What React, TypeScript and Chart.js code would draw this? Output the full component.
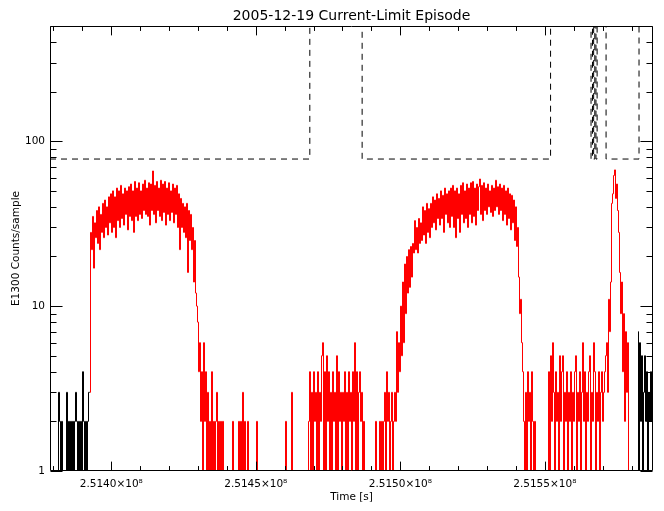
import React, { useEffect, useRef } from 'react';
import { Chart, registerables } from 'chart.js';

Chart.register(...registerables);

const FONT = '"DejaVu Sans", sans-serif';

// ---- text ----
const TITLE = '2005-12-19 Current-Limit Episode';
const X_TITLE = 'Time [s]';
const Y_TITLE = 'E1300 Counts/sample';

// ---- axes ----
const X_MIN = 251378800;
const X_MAX = 251587438;
const Y_MIN = 1;
const Y_MAX = 500;
const xTickValues = [251400000, 251450000, 251500000, 251550000];
const xTickLabels = ['2.5140×10⁸', '2.5145×10⁸', '2.5150×10⁸', '2.5155×10⁸'];
const X_MINOR_STEP = 10000;
const yTickValues = [1, 10, 100];
const yTickLabels = ['1', '10', '100'];

// ---- data (counts per sample) ----
const SAMPLE_STEP = 346; // seconds per sample

// black: full record outside the highlighted window
const blackStartT0 = 251379146;
const blackStartCounts = [
  1, 1, 1, 1, 1, 1, 1, 1, 3, 2,
  1, 2, 1, 1, 1, 1, 3, 1, 2, 1,
  2, 1, 2, 1, 2, 3, 2, 1, 2, 1,
  2, 1, 4, 2, 1, 2, 1, 2, 3, 3,
];
const blackEndT0 = 251582248;
const blackEndCounts = [7, 1, 6, 2, 5, 1, 3, 5, 2, 4, 1, 3, 2, 4, 2, 3];

// red: highlighted window
const redT0 = 251392640;
const redEpisode1 = [
  3, 28, 22, 35, 17, 32, 26, 38, 24, 40,
  22, 36, 28, 42, 26, 44, 30, 40, 27, 46,
  32, 48, 28, 50, 30, 46, 26, 52, 33, 50,
  30, 54, 34, 48, 31, 52, 36, 50, 29, 53,
  35, 55, 33, 50, 28, 57, 35, 52, 33, 56,
  36, 50, 34, 55, 38, 58, 36, 52, 35, 56,
  31, 55, 38, 66, 36, 54, 32, 57, 38, 52,
  35, 58, 33, 55, 37, 57, 31, 52, 36, 56,
  33, 50, 37, 55, 32, 52, 36, 54, 30, 48,
  22, 45, 30, 42, 28, 40, 26, 42, 16, 38,
  25, 36, 22, 30, 14, 25, 12, 10, 8, 4,
  6,
];
const redGap1 = [
  2, 4, 1, 6, 2, 4, 1, 3, 1, 2,
  1, 4, 1, 2, 1, 2, 3, 1, 2, 1,
  2, 1, 2, 1, 1, 1, 1, 1, 1, 1,
  1, 1, 2, 1, 1, 1, 1, 1, 2, 1,
  2, 1, 3, 1, 2, 1, 1, 2, 1, 1,
  1, 1, 1, 1, 1, 1, 2, 1, 1, 1,
  1, 1, 1, 1, 1, 1, 1, 1, 1, 1,
  1, 1, 1, 1, 1, 1, 1, 1, 1, 1,
  1, 1, 1, 1, 1, 2, 1, 1, 1, 1,
  1, 3, 1, 1, 1, 1, 1, 1, 1, 1,
  1, 1, 1, 1, 1, 1, 1, 1, 2,
];
const redNoise2 = [
  4, 1, 3, 1, 4, 2, 3, 1, 4, 1,
  3, 2, 5, 6, 1, 4, 1, 5, 2, 4,
  1, 3, 1, 4, 2, 3, 1, 5, 1, 4,
  2, 3, 1, 3, 2, 4, 1, 3, 1, 4,
  2, 3, 1, 4, 2, 6, 1, 4, 1, 3,
  4, 2, 3, 1, 2, 1,
];
const redGap2 = [
  1, 1, 1, 1, 1, 1, 1, 1, 1, 1,
  2, 1, 1, 1, 2, 1, 2, 1, 2, 3,
  1, 4, 2, 3, 1, 2, 3, 1, 2, 3,
];
const redEpisode2 = [
  2, 7, 3, 6, 4, 10, 5, 14, 6, 18,
  9, 20, 12, 22, 13, 23, 15, 24, 21, 33,
  22, 30, 21, 34, 24, 32, 25, 40, 27, 38,
  24, 42, 28, 39, 26, 42, 30, 46, 32, 44,
  29, 48, 34, 45, 31, 50, 34, 47, 28, 52,
  36, 48, 32, 50, 30, 52, 35, 54, 30, 50,
  26, 52, 34, 48, 28, 54, 36, 56, 32, 50,
  34, 55, 30, 52, 36, 56, 32, 57, 35, 52,
  31, 55, 38, 53, 59, 36, 54, 33, 56, 38,
  52, 36, 55, 40, 50, 37, 54, 35, 52, 38,
  58, 40, 53, 36, 55, 38, 52, 33, 54, 36,
  50, 31, 52, 34, 48, 29, 47, 32, 44, 25,
  40, 23, 30, 15, 9, 11, 6, 4, 2, 1,
  3, 1, 4, 2, 3, 1, 4, 2, 1, 2, 1,
];
const redGap3 = [1, 1, 1, 1, 1, 1, 1, 1, 1, 1, 1, 1];
const redNoise3 = [
  4, 1, 5, 2, 6, 3, 1, 4, 2, 3,
  1, 5, 2, 4, 5, 1, 3, 2, 4, 1,
  3, 2, 4, 1, 3, 2, 4, 5, 1, 3,
  2, 4, 1, 3, 6, 2, 4, 1, 3, 2,
  4, 5, 1, 3, 2, 6, 4, 1, 3, 2,
  4, 1, 3, 4, 2, 3,
];
const redFlare = [4, 5, 6, 3, 11, 7, 14, 42, 48, 62, 67, 45, 55, 38, 28, 16, 9, 14, 4, 9, 2, 7, 3, 6, 1, 1];

// dashed current-limit flag: 78 when inside limit, off-scale otherwise
const LIMIT_LEVEL = 78;
const OFF_SCALE = 10000;
const limitTimes = [
  251378800, 251468700, 251486800, 251552000, 251566000, 251566500, 251566900,
  251567300, 251567700, 251568100, 251571200, 251582600, 251587438,
];
const limitLevels = [
  LIMIT_LEVEL, OFF_SCALE, LIMIT_LEVEL, OFF_SCALE, LIMIT_LEVEL, OFF_SCALE, LIMIT_LEVEL,
  OFF_SCALE, LIMIT_LEVEL, OFF_SCALE, LIMIT_LEVEL, OFF_SCALE, OFF_SCALE,
];

const toPoints = (t0: number, counts: number[]) =>
  counts.map((c, i) => ({ x: t0 + i * SAMPLE_STEP, y: c }));

const redCounts = [
  ...redEpisode1, ...redGap1, ...redNoise2, ...redGap2,
  ...redEpisode2, ...redGap3, ...redNoise3, ...redFlare,
];

const framePlugin = {
  id: 'idlFrame',
  afterDatasetsDraw(chart: any) {
    const { ctx, chartArea: a, scales } = chart;
    const xs = scales.x;
    const ys = scales.y;
    const L = Math.round(a.left) + 0.5;
    const R = Math.round(a.right) - 0.5;
    const T = Math.round(a.top) + 0.5;
    const B = Math.round(a.bottom) - 0.5;
    ctx.save();
    ctx.strokeStyle = '#000';
    ctx.lineWidth = 1;
    ctx.beginPath();
    ctx.rect(L, T, R - L, B - T);
    const xMajLen = 0.02 * (B - T);
    const yMajLen = 0.02 * (R - L);
    for (let v = Math.ceil(X_MIN / X_MINOR_STEP) * X_MINOR_STEP; v <= X_MAX; v += X_MINOR_STEP) {
      const major = xTickValues.includes(v);
      const len = major ? xMajLen : xMajLen / 2;
      const px = Math.round(xs.getPixelForValue(v)) + 0.5;
      ctx.moveTo(px, B);
      ctx.lineTo(px, B - len);
      ctx.moveTo(px, T);
      ctx.lineTo(px, T + len);
    }
    for (let dec = 1; dec <= Y_MAX; dec *= 10) {
      for (let m = 1; m <= 9; m++) {
        const v = m * dec;
        if (v < Y_MIN || v > Y_MAX) continue;
        const len = m === 1 ? yMajLen : yMajLen / 2;
        const py = Math.round(ys.getPixelForValue(v)) + 0.5;
        ctx.moveTo(L, py);
        ctx.lineTo(L + len, py);
        ctx.moveTo(R, py);
        ctx.lineTo(R - len, py);
      }
    }
    ctx.stroke();
    ctx.restore();
  },
};

export default function App() {
  const ref = useRef<HTMLCanvasElement>(null);
  useEffect(() => {
    document.body.style.margin = '0';
    Chart.defaults.color = '#000';
    Chart.defaults.font.family = FONT;
    const chart = new Chart(ref.current as HTMLCanvasElement, {
      type: 'line',
      data: {
        datasets: [
          {
            label: 'limit',
            data: limitTimes.map((t, i) => ({ x: t, y: limitLevels[i] })),
            borderColor: '#000',
            borderWidth: 1,
            borderDash: [6, 5],
            stepped: 'before',
            pointRadius: 0,
            order: 0,
          },
          {
            label: 'window',
            data: toPoints(redT0, redCounts),
            borderColor: '#ff0000',
            borderWidth: 1,
            stepped: 'middle',
            pointRadius: 0,
            order: 1,
          },
          {
            label: 'before',
            data: toPoints(blackStartT0, blackStartCounts),
            borderColor: '#000',
            borderWidth: 1,
            stepped: 'middle',
            pointRadius: 0,
            order: 2,
          },
          {
            label: 'after',
            data: toPoints(blackEndT0, blackEndCounts),
            borderColor: '#000',
            borderWidth: 1,
            stepped: 'middle',
            pointRadius: 0,
            order: 2,
          },
        ],
      },
      options: {
        animation: false,
        responsive: false,
        devicePixelRatio: 1,
        events: [],
        layout: { padding: { left: 0, right: 11, top: 0, bottom: 0 } },
        plugins: {
          legend: { display: false },
          tooltip: { enabled: false },
          title: {
            display: true,
            text: TITLE,
            fullSize: false,
            color: '#000',
            font: { family: FONT, size: 14, weight: 'normal' },
            padding: { top: 8, bottom: 1.2 },
          },
        },
        scales: {
          x: {
            type: 'linear',
            min: X_MIN,
            max: X_MAX,
            grid: { display: false, drawTicks: false },
            border: { display: false },
            afterBuildTicks: (s: any) => {
              s.ticks = xTickValues.map((value) => ({ value }));
            },
            afterFit: (s: any) => {
              s.height = 40;
            },
            ticks: {
              autoSkip: false,
              maxRotation: 0,
              minRotation: 0,
              padding: 7,
              color: '#000',
              font: { family: FONT, size: 10.5 },
              callback: (_v: any, i: number) => xTickLabels[i],
            },
            title: {
              display: true,
              text: X_TITLE,
              color: '#000',
              font: { family: FONT, size: 10.5 },
              padding: { top: 0, bottom: 7.7 },
            },
          },
          y: {
            type: 'logarithmic',
            min: Y_MIN,
            max: Y_MAX,
            grid: { display: false, drawTicks: false },
            border: { display: false },
            afterBuildTicks: (s: any) => {
              s.ticks = yTickValues.map((value) => ({ value }));
            },
            afterFit: (s: any) => {
              s.width = 50;
            },
            ticks: {
              autoSkip: false,
              padding: 5,
              color: '#000',
              font: { family: FONT, size: 10.5 },
              callback: (_v: any, i: number) => yTickLabels[i],
            },
            title: {
              display: true,
              text: Y_TITLE,
              color: '#000',
              font: { family: FONT, size: 10.5 },
              padding: { top: 9.7, bottom: 0 },
            },
          },
        },
      },
      plugins: [framePlugin],
    } as any);
    return () => chart.destroy();
  }, []);
  return <canvas ref={ref} width={664} height={511} style={{ display: 'block' }} />;
}
